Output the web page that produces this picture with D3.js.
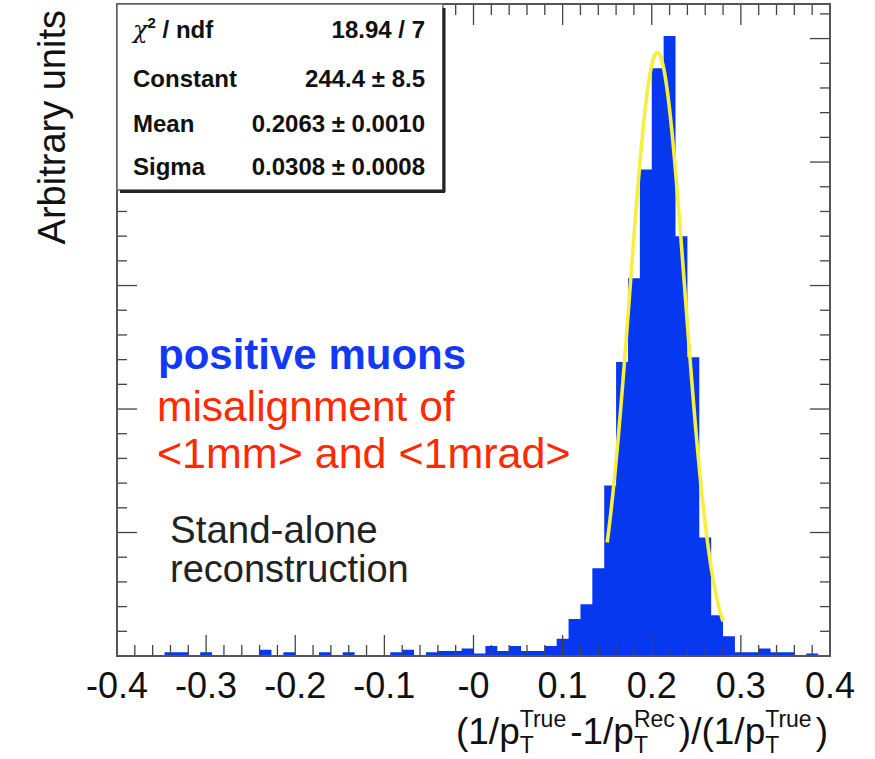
<!DOCTYPE html>
<html>
<head>
<meta charset="utf-8">
<script src="https://cdn.jsdelivr.net/npm/d3@7"></script>
<style>
  body { margin: 0; background: #fff; }
  svg { display: block; }
  text { font-family: "Liberation Sans", Arial, Helvetica, sans-serif; }
</style>
</head>
<body>
<div id="chart"></div>
<script>
// histogram: 60 bins from -0.4 to 0.4
const binRange = [-0.4, 0.4];
const counts = [
  0, 0, 0, 0, 1.5, 1.5, 0, 1.5, 0, 0,
  0, 0, 2.5, 0, 1.5, 0, 0, 1.5, 0, 1.5,
  0, 0, 0, 1.5, 2.5, 0, 1.5, 2, 2, 3,
  1, 4, 2, 4, 2, 2, 4, 7, 15, 21,
  35.5, 69, 119, 153, 197, 238, 251, 170, 121, 48,
  16.5, 8, 1.5, 1.5, 3, 1.5, 1.5, 0, 1, 0
];
const xTicks = [-0.4, -0.3, -0.2, -0.1, 0, 0.1, 0.2, 0.3, 0.4];
const xTickLabels = ["-0.4", "-0.3", "-0.2", "-0.1", "-0", "0.1", "0.2", "0.3", "0.4"];
const yMax = 264;

// fit box
const statNames = ["Constant", "Mean", "Sigma"];
const statValues = ["18.94 / 7", "244.4 \u00b1 8.5", "0.2063 \u00b1 0.0010", "0.0308 \u00b1 0.0008"];
const fitParams = [244.4, 0.2063, 0.0308];   // constant, mean, sigma
const fitRange = [0.15, 0.28];

// notes on the plot
const noteLines = ["positive muons", "misalignment of", "<1mm> and <1mrad>", "Stand-alone", "reconstruction"];

var margin = { top: 4, right: 45, bottom: 103, left: 117 },
    width = 875 - margin.left - margin.right,
    height = 759 - margin.top - margin.bottom;

var svg = d3.select("#chart")
  .append("svg")
  .attr("width", 875)
  .attr("height", 759);

var g = svg.append("g")
  .attr("transform", "translate(" + margin.left + "," + margin.top + ")");

var x = d3.scaleLinear().domain(binRange).range([0, width]);
var y = d3.scaleLinear().domain([0, yMax]).range([height, 0]);

var nb = counts.length;
var bw = (binRange[1] - binRange[0]) / nb;

// histogram as one step area (no seams between bins)
var steps = counts.map((c, i) => ({ lo: binRange[0] + i * bw, c: c }));
steps.push({ lo: binRange[1], c: 0 });
var histArea = d3.area()
  .x(d => x(d.lo))
  .y0(height)
  .y1(d => y(d.c))
  .curve(d3.curveStepAfter);
g.append("path")
  .datum(steps)
  .attr("d", histArea)
  .attr("fill", "#0538ef");

// gaussian fit curve from the fit parameters
var fx = d3.range(fitRange[0], fitRange[1] + 1e-9, (fitRange[1] - fitRange[0]) / 120);
var fitLine = d3.line()
  .x(v => x(v))
  .y(v => y(fitParams[0] * Math.exp(-0.5 * Math.pow((v - fitParams[1]) / fitParams[2], 2))))
  .curve(d3.curveBasis);
g.append("path")
  .datum(fx)
  .attr("d", fitLine)
  .attr("fill", "none")
  .attr("stroke", "#f7ef3f")
  .attr("stroke-width", 3.6);

// axes, ROOT style: ticks inside on all four sides
var tickCol = "#444";
var xMinor = d3.range(0, 41).map(i => -0.4 + i * 0.02);
var yMinor = d3.range(0, 27).map(i => i * 10);

function isMajor(v, step) { return Math.abs(v / step - Math.round(v / step)) < 1e-6; }

g.selectAll("line.xt")
  .data(xMinor)
  .enter()
  .append("line")
  .attr("x1", d => x(d)).attr("x2", d => x(d))
  .attr("y1", height)
  .attr("y2", d => height - (isMajor(d, 0.1) ? 21 : 11))
  .attr("stroke", tickCol).attr("stroke-width", 1.3);

g.selectAll("line.xtt")
  .data(xMinor)
  .enter()
  .append("line")
  .attr("x1", d => x(d)).attr("x2", d => x(d))
  .attr("y1", 0)
  .attr("y2", d => (isMajor(d, 0.1) ? 21 : 11))
  .attr("stroke", tickCol).attr("stroke-width", 1.3);

g.selectAll("line.ytl")
  .data(yMinor)
  .enter()
  .append("line")
  .attr("x1", 0)
  .attr("x2", d => (d % 50 === 0 ? 20 : 10))
  .attr("y1", d => y(d)).attr("y2", d => y(d))
  .attr("stroke", tickCol).attr("stroke-width", 1.3);

g.selectAll("line.ytr")
  .data(yMinor)
  .enter()
  .append("line")
  .attr("x1", width)
  .attr("x2", d => width - (d % 50 === 0 ? 20 : 10))
  .attr("y1", d => y(d)).attr("y2", d => y(d))
  .attr("stroke", tickCol).attr("stroke-width", 1.3);

// frame
g.append("rect")
  .attr("x", 0).attr("y", 0)
  .attr("width", width).attr("height", height)
  .attr("fill", "none")
  .attr("stroke", "#555")
  .attr("stroke-width", 2);

// x tick labels
g.selectAll("text.xl")
  .data(xTicks)
  .enter()
  .append("text")
  .attr("x", d => x(d))
  .attr("y", height + 42)
  .attr("text-anchor", "middle")
  .attr("font-size", 36)
  .attr("fill", "#111")
  .text((d, i) => xTickLabels[i]);

// y title
svg.append("text")
  .attr("transform", "translate(65,10) rotate(-90)")
  .attr("text-anchor", "end")
  .attr("font-size", 38)
  .attr("fill", "#111")
  .text("Arbitrary units");

// x title: separate text pieces, sub and sup stacked at the same x
var mainFs = 37, scrFs = 23, gap = 4;
var parts = [
  { t: "(1/p", sup: "True" },
  { t: "-1/p", sup: "Rec" },
  { t: ")/(1/p", sup: "True" },
  { t: ")" }
];
var xtg = svg.append("g");
var cx = 0;
parts.forEach(p => {
  var m = xtg.append("text").attr("x", cx).attr("y", 0)
    .attr("font-size", mainFs).attr("fill", "#111").text(p.t);
  cx += m.node().getComputedTextLength();
  if (p.sup) {
    xtg.append("text").attr("x", cx).attr("y", 9)
      .attr("font-size", scrFs).attr("fill", "#111").text("T");
    var s = xtg.append("text").attr("x", cx).attr("y", -17)
      .attr("font-size", scrFs).attr("fill", "#111").text(p.sup);
    cx += s.node().getComputedTextLength() + gap;
  }
});
xtg.attr("transform", "translate(" + (margin.left + width - 2 - cx) + ",744)");

// stats box
var box = svg.append("g");
box.append("rect")
  .attr("x", 117).attr("y", 4).attr("width", 326).attr("height", 186)
  .attr("fill", "#fff").attr("stroke", "#666").attr("stroke-width", 1.5);
box.append("line").attr("x1", 444).attr("x2", 444).attr("y1", 8).attr("y2", 192)
  .attr("stroke", "#222").attr("stroke-width", 3);
box.append("line").attr("x1", 120).attr("x2", 445).attr("y1", 191.5).attr("y2", 191.5)
  .attr("stroke", "#222").attr("stroke-width", 3);

var statFs = 24;
var rowY = [38, 87, 132, 175];
var chi = box.append("text").attr("x", 133).attr("y", rowY[0])
  .attr("font-size", statFs).attr("font-weight", "bold").attr("fill", "#111");
chi.append("tspan").attr("font-family", "DejaVu Serif, serif").attr("font-style", "italic")
  .attr("font-weight", "normal").text("\u03c7");
chi.append("tspan").attr("font-size", 15).attr("dy", -10).text("2");
chi.append("tspan").attr("dy", 10).text(" / ndf");

box.selectAll("text.sn")
  .data(statNames)
  .enter()
  .append("text")
  .attr("x", 133)
  .attr("y", (d, i) => rowY[i + 1])
  .attr("font-size", statFs).attr("font-weight", "bold").attr("fill", "#111")
  .text(d => d);

box.selectAll("text.sv")
  .data(statValues)
  .enter()
  .append("text")
  .attr("x", 425)
  .attr("y", (d, i) => rowY[i])
  .attr("text-anchor", "end")
  .attr("font-size", statFs).attr("font-weight", "bold").attr("fill", "#111")
  .text(d => d);

// annotations
var noteStyle = [
  { y: 369, fs: 42, w: "bold", c: "#1239f5", x: 158 },
  { y: 421, fs: 42.5, w: "normal", c: "#ff2a00", x: 157 },
  { y: 468, fs: 43, w: "normal", c: "#ff2a00", x: 157 },
  { y: 543, fs: 38.5, w: "normal", c: "#222", x: 170 },
  { y: 582, fs: 38, w: "normal", c: "#222", x: 170 }
];
svg.selectAll("text.note")
  .data(noteLines)
  .enter()
  .append("text")
  .attr("x", (d, i) => noteStyle[i].x)
  .attr("y", (d, i) => noteStyle[i].y)
  .attr("font-size", (d, i) => noteStyle[i].fs)
  .attr("font-weight", (d, i) => noteStyle[i].w)
  .attr("fill", (d, i) => noteStyle[i].c)
  .text(d => d);
</script>
</body>
</html>
